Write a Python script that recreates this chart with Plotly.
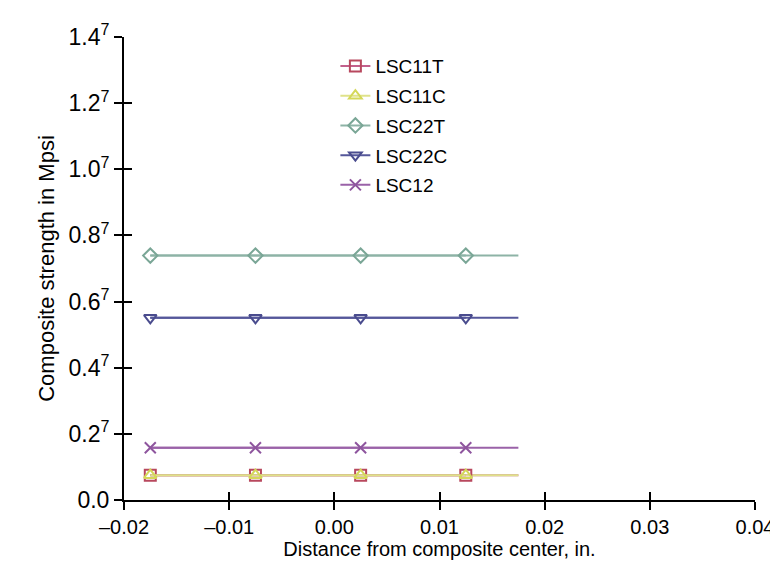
import plotly.graph_objects as go

# Data
x_marked = [-0.0175, -0.0075, 0.0025, 0.0125]
x_line_end = 0.0175
series_names = ["LSC11T", "LSC11C", "LSC22T", "LSC22C", "LSC12"]
series_values = {
    "LSC11T": [0.075, 0.075, 0.075, 0.075],
    "LSC11C": [0.075, 0.075, 0.075, 0.075],
    "LSC22T": [0.739, 0.739, 0.739, 0.739],
    "LSC22C": [0.551, 0.551, 0.551, 0.551],
    "LSC12": [0.158, 0.158, 0.158, 0.158],
}
y_tickvals = [0.0, 0.2, 0.4, 0.6, 0.8, 1.0, 1.2, 1.4]
y_ticktext = ["0.0", "0.2<sup>7</sup>", "0.4<sup>7</sup>", "0.6<sup>7</sup>", "0.8<sup>7</sup>",
              "1.0<sup>7</sup>", "1.2<sup>7</sup>", "1.4<sup>7</sup>"]
x_tickvals = [-0.02, -0.01, 0.0, 0.01, 0.02, 0.03, 0.04]
x_ticktext = ["\u20130.02", "\u20130.01", "0.00", "0.01", "0.02", "0.03", "0.04"]

styles = {
    "LSC11T": dict(color="#b8485e", symbol="square-open", line_color="#c2608c"),
    "LSC11C": dict(color="#d4d85a", symbol="triangle-up-open", line_color="#dfe28a"),
    "LSC22T": dict(color="#7aa696", symbol="diamond-open", line_color="#8db3a6"),
    "LSC22C": dict(color="#4a4c8e", symbol="triangle-down-open", line_color="#55579a"),
    "LSC12": dict(color="#8e559e", symbol="x-thin-open", line_color="#9a62a8"),
}

fig = go.Figure()
for name in series_names:
    st = styles[name]
    vals = series_values[name]
    xs = x_marked + [x_line_end]
    ys = vals + [vals[-1]]
    fig.add_trace(go.Scatter(
        x=xs, y=ys, mode="lines", showlegend=False, hoverinfo="skip",
        line=dict(color=st["line_color"], width=2),
    ))
for name in series_names:
    st = styles[name]
    vals = series_values[name]
    fig.add_trace(go.Scatter(
        x=x_marked, y=vals, mode="lines+markers", name=name, legendgroup=name,
        line=dict(color=st["line_color"], width=2),
        marker=dict(symbol=st["symbol"], size=11, color=st["color"],
                    line=dict(width=2, color=st["color"])),
    ))

font_family = "Liberation Sans"
axis_common = dict(showgrid=False, zeroline=False, linecolor="black", linewidth=2,
                   tickcolor="black", tickwidth=2, ticklen=8)

fig.update_layout(
    width=778, height=565,
    paper_bgcolor="white", plot_bgcolor="white",
    margin=dict(l=116, r=25, t=22, b=73),
    font=dict(family=font_family, size=20, color="black"),
    xaxis=dict(range=[-0.02, 0.04], tickvals=x_tickvals, ticktext=x_ticktext,
               ticks="outside", showline=True, tickfont=dict(size=20),
               title=dict(text="Distance from composite center, in.", font=dict(size=20), standoff=2),
               **axis_common),
    yaxis=dict(range=[0, 1.4], tickvals=y_tickvals, ticktext=y_ticktext,
               ticks="outside", showline=True, tickfont=dict(size=23),
               title=dict(text="Composite strength in Mpsi", font=dict(size=22), standoff=8),
               **axis_common),
    xaxis2=dict(range=[-0.02, 0.04], tickvals=x_tickvals, overlaying="x", anchor="y",
                side="bottom", ticks="inside", showticklabels=False, showline=False,
                showgrid=False, zeroline=False, tickcolor="black", tickwidth=2, ticklen=8),
    yaxis2=dict(range=[0, 1.4], tickvals=y_tickvals, overlaying="y", anchor="x",
                side="left", ticks="inside", showticklabels=False, showline=False,
                showgrid=False, zeroline=False, tickcolor="black", tickwidth=2, ticklen=8),
    legend=dict(x=0.335, y=0.978, xanchor="left", yanchor="top",
                bgcolor="rgba(0,0,0,0)", font=dict(size=19), tracegroupgap=2),
)
# invisible trace so the secondary (inside-tick) axes are drawn
fig.add_trace(go.Scatter(x=[None], y=[None], xaxis="x2", yaxis="y2", showlegend=False,
                         hoverinfo="skip"))

fig.write_html("out.html")
